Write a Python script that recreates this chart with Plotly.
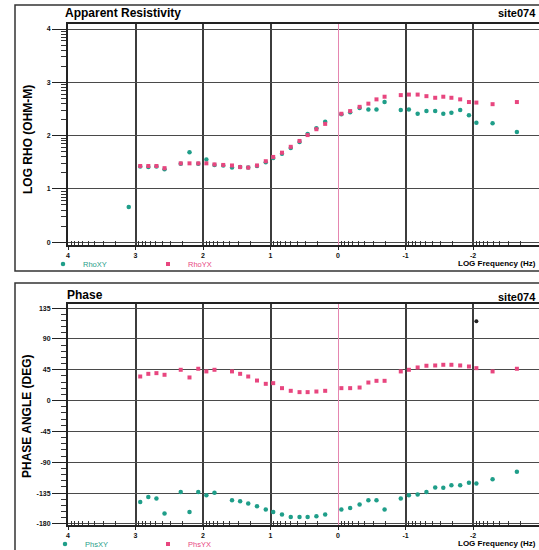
import math
import plotly.graph_objects as go

# ---------------- data ----------------
log_freq = [3.10, 2.93, 2.81, 2.69, 2.57, 2.33, 2.20, 2.07, 1.95, 1.83, 1.70,
            1.57, 1.45, 1.33, 1.20, 1.07, 0.96, 0.83, 0.70, 0.57, 0.45, 0.32,
            0.19, -0.05, -0.18, -0.32, -0.45, -0.57, -0.69, -0.93, -1.05,
            -1.18, -1.31, -1.44, -1.56, -1.68, -1.81, -1.94, -2.05, -2.29, -2.65]

rho_xy = [0.66, 1.42, 1.41, 1.42, 1.37, 1.47, 1.69, 1.47, 1.55, 1.45, 1.44,
          1.40, 1.41, 1.40, 1.43, 1.50, 1.58, 1.66, 1.77, 1.88, 2.03, 2.14,
          2.26, 2.40, 2.44, 2.52, 2.49, 2.49, 2.63, 2.48, 2.49,
          2.41, 2.46, 2.46, 2.41, 2.43, 2.48, 2.38, 2.24, 2.23, 2.07]

rho_yx = [None, 1.43, 1.43, 1.43, 1.39, 1.48, 1.48, 1.48, 1.48, 1.46, 1.45,
          1.44, 1.41, 1.40, 1.44, 1.52, 1.60, 1.68, 1.79, 1.90, 2.01, 2.12,
          2.22, 2.41, 2.46, 2.54, 2.60, 2.68, 2.73, 2.76, 2.77,
          2.77, 2.74, 2.71, 2.73, 2.71, 2.68, 2.63, 2.62, 2.59, 2.63]

phs_xy = [None, -147.8, -140.5, -143.0, -164.8, -133.2, -162.5, -133.2, -138.0,
          -134.6, None, -145.3, -146.8, -150.2, -154.1, -159.0, -162.5, -166.3,
          -169.8, -169.8, -169.8, -168.8, -166.3, -159.0, -156.6, -151.6,
          -145.3, -145.3, -159.0, -143.0, -138.0, -137.0, -133.2, -126.7,
          -127.3, -123.4, -123.4, -120.0, -120.9, -114.6, -103.9]

phs_yx = [None, 35.2, 39.1, 40.1, 37.7, 45.0, 33.8, 46.5, 42.6, 45.0, None,
          42.6, 39.1, 35.2, 29.3, 24.5, 25.5, 18.2, 14.3, 12.4, 12.4, 13.3,
          14.3, 18.2, 18.2, 19.1, 26.4, 28.9, 28.9, 42.6, 45.0, 48.4, 50.9,
          51.3, 52.3, 52.3, 51.3, 49.8, 47.4, 42.6, 46.5]

outlier_freq = [-2.05]
outlier_phs = [115.7]

x_tick_vals = [4, 3, 2, 1, 0, -1, -2, -3]
x_tick_text = ["4", "3", "2", "1", "0", "-1", "-2", "-3"]
rho_tick_vals = [0, 1, 2, 3, 4]
rho_tick_text = ["0", "1", "2", "3", "4"]
phs_tick_vals = [-180, -135, -90, -45, 0, 45, 90, 135]
phs_tick_text = ["-180", "-135", "-90", "-45", "0", "45", "90", "135"]

# ---------------- styling ----------------
TEAL = "#1f9e89"
PINK = "#e8467f"
FONT = "Liberation Sans, Arial, sans-serif"
W, H = 539, 550
ML, MR, MT, MB = 68, 0, 24, 25
PW, PH = W - ML - MR, H - MT - MB


def px_x(px):
    return (px - ML) / PW


def px_y(py):
    return (H - MB - py) / PH


x_minor = [n + math.log10(k) for n in range(-3, 4) for k in range(2, 10)]
rho_minor = [n + math.log10(k) for n in range(0, 4) for k in range(2, 10)]

fig = go.Figure()
fig.add_trace(go.Scatter(x=log_freq, y=rho_xy, mode="markers", name="RhoXY",
                         marker=dict(symbol="circle", size=4.5, color=TEAL),
                         xaxis="x", yaxis="y", legend="legend"))
fig.add_trace(go.Scatter(x=log_freq, y=rho_yx, mode="markers", name="RhoYX",
                         marker=dict(symbol="square", size=4, color=PINK),
                         xaxis="x", yaxis="y", legend="legend2"))
fig.add_trace(go.Scatter(x=log_freq, y=phs_xy, mode="markers", name="PhsXY",
                         marker=dict(symbol="circle", size=4.5, color=TEAL),
                         xaxis="x2", yaxis="y2", legend="legend3"))
fig.add_trace(go.Scatter(x=log_freq, y=phs_yx, mode="markers", name="PhsYX",
                         marker=dict(symbol="square", size=4, color=PINK),
                         xaxis="x2", yaxis="y2", legend="legend4"))
fig.add_trace(go.Scatter(x=outlier_freq, y=outlier_phs, mode="markers",
                         marker=dict(symbol="circle", size=4, color="#222"),
                         xaxis="x2", yaxis="y2", showlegend=False))

tickfont = dict(size=7, family=FONT, color="#111", weight="bold")

xaxis_common = dict(
    range=[4, 4 - PW / 67.5], tickmode="array", tickvals=x_tick_vals,
    ticktext=x_tick_text, showgrid=True, gridcolor="#3c3c3c", gridwidth=1.5,
    zeroline=True, zerolinecolor="#e586b0", zerolinewidth=1,
    showline=True, linecolor="#222", linewidth=2, mirror=True,
    ticks="outside", ticklen=3, tickcolor="#222", tickfont=tickfont,
    minor=dict(tickvals=x_minor, ticks="inside", ticklen=4, tickcolor="#333",
               tickwidth=1, showgrid=False),
)
yaxis_common = dict(
    showgrid=True, gridcolor="#4a4a4a", gridwidth=1, zeroline=False,
    showline=True, linecolor="#222", linewidth=2, mirror=False,
    ticks="outside", ticklen=14, tickcolor="#222", tickfont=tickfont,
)

top_dom = [px_y(245), 1.0]
bot_dom = [0.0, px_y(304)]

fig.update_layout(
    width=W, height=H,
    margin=dict(l=ML, r=MR, t=MT, b=MB, autoexpand=False),
    paper_bgcolor="white", plot_bgcolor="white",
    font=dict(family=FONT, color="#111"),
    xaxis=dict(**xaxis_common, anchor="y", domain=[0, 1]),
    yaxis=dict(**yaxis_common, domain=top_dom, anchor="x",
               range=[-0.052, 4.094], tickmode="array",
               tickvals=rho_tick_vals, ticktext=rho_tick_text,
               minor=dict(tickvals=rho_minor, ticks="outside", ticklen=5,
                          tickcolor="#333", showgrid=False)),
    xaxis2=dict(**xaxis_common, anchor="y2", domain=[0, 1]),
    yaxis2=dict(**yaxis_common, domain=bot_dom, anchor="x2",
                range=[-181.5, 141.0], tickmode="array",
                tickvals=phs_tick_vals, ticktext=phs_tick_text,
                minor=dict(dtick=9, tick0=0, ticks="outside", ticklen=5,
                           tickcolor="#333", showgrid=False)),
)

legend_base = dict(xanchor="left", yanchor="middle", bgcolor="rgba(0,0,0,0)",
                   borderwidth=0, itemwidth=30, orientation="h")
fig.update_layout(
    legend=dict(**legend_base, x=px_x(43), y=px_y(264),
                font=dict(size=7.5, color=TEAL, family=FONT)),
    legend2=dict(**legend_base, x=px_x(148), y=px_y(264),
                 font=dict(size=7.5, color=PINK, family=FONT)),
    legend3=dict(**legend_base, x=px_x(45), y=px_y(544),
                 font=dict(size=7.5, color=TEAL, family=FONT)),
    legend4=dict(**legend_base, x=px_x(148), y=px_y(544),
                 font=dict(size=7.5, color=PINK, family=FONT)),
)

ann_font_big = dict(size=12, family=FONT, color="#000", weight="bold")
ann_font_site = dict(size=11, family=FONT, color="#000", weight="bold")
ann_font_axis = dict(size=12, family=FONT, color="#000", weight="bold")
ann_font_small = dict(size=8, family=FONT, color="#000", weight="bold")
annotations = [
    dict(text="Apparent Resistivity", x=px_x(63), y=px_y(13), xanchor="left",
         yanchor="middle", font=ann_font_big),
    dict(text="site074", x=px_x(538), y=px_y(13), xanchor="right",
         yanchor="middle", font=ann_font_site),
    dict(text="Phase", x=px_x(65), y=px_y(295), xanchor="left",
         yanchor="middle", font=ann_font_big),
    dict(text="site074", x=px_x(538), y=px_y(297), xanchor="right",
         yanchor="middle", font=ann_font_site),
    dict(text="LOG RHO (OHM-M)", x=px_x(28), y=px_y(140), textangle=-90,
         xanchor="center", yanchor="middle", font=ann_font_axis),
    dict(text="PHASE ANGLE (DEG)", x=px_x(27), y=px_y(416), textangle=-90,
         xanchor="center", yanchor="middle", font=ann_font_axis),
    dict(text="LOG Frequency (Hz)", x=px_x(538), y=px_y(263), xanchor="right",
         yanchor="middle", font=ann_font_small),
    dict(text="LOG Frequency (Hz)", x=px_x(538), y=px_y(543), xanchor="right",
         yanchor="middle", font=ann_font_small),
]
for a in annotations:
    a.update(xref="paper", yref="paper", showarrow=False)
fig.update_layout(annotations=annotations)

shapes = [
    dict(type="rect", x0=px_x(15), x1=px_x(560), y0=px_y(271), y1=px_y(5),
         line=dict(color="#333", width=1.5)),
    dict(type="rect", x0=px_x(15), x1=px_x(560), y0=px_y(565), y1=px_y(283),
         line=dict(color="#333", width=1.5)),
]
for s in shapes:
    s.update(xref="paper", yref="paper", layer="below")
fig.update_layout(shapes=shapes)

fig.write_html(
    "out.html",
    config={"displayModeBar": False},
    post_script="document.body.style.margin='0';"
                "document.body.style.padding='0';"
                "document.body.style.overflow='hidden';",
)
